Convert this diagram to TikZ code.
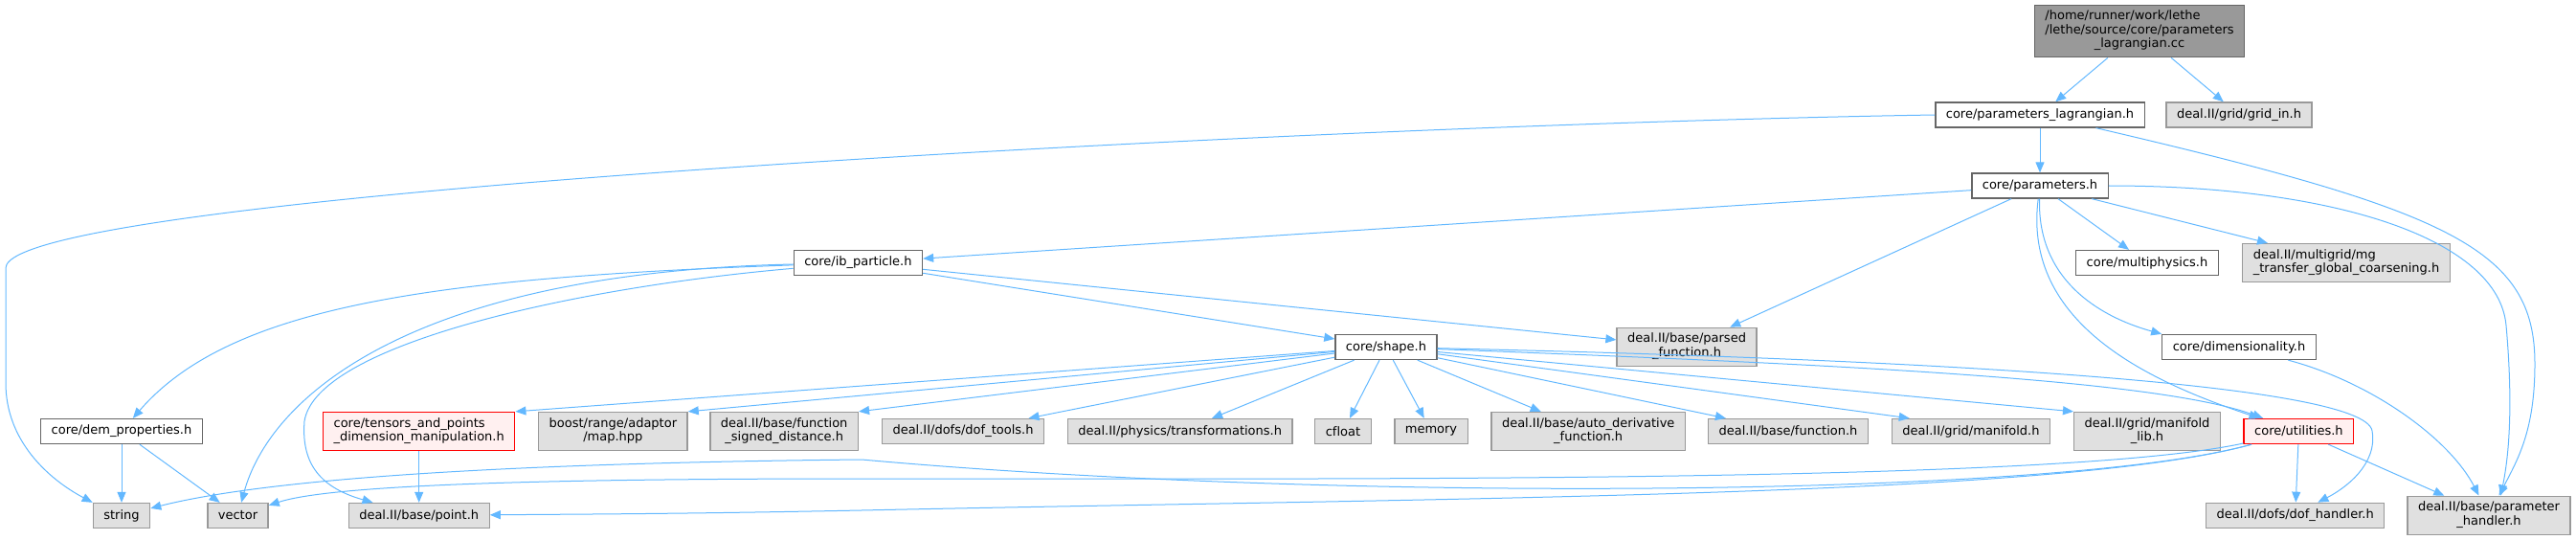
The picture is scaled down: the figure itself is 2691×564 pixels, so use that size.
\documentclass[tikz,border=0pt]{standalone}
\usepackage{fontspec}
\setmainfont[Ligatures=NoCommon]{DejaVu Sans}
\usetikzlibrary{arrows.meta}

\definecolor{edgeblue}{HTML}{63B8FF}
\definecolor{extfill}{HTML}{E0E0E0}
\definecolor{extline}{HTML}{999999}
\definecolor{docline}{HTML}{666666}
\definecolor{rootfill}{HTML}{999999}
\definecolor{truncfill}{HTML}{FFF0F0}

% first lines left, last line centred
\newcommand{\twolines}[2]{\begin{tabular}{@{}l@{}}#1\\\multicolumn{1}{@{}c@{}}{#2}\end{tabular}}

\tikzset{
  file/.style={draw, line width=1.3pt, inner xsep=11pt, inner ysep=5.5pt,
    minimum height=26pt, font=\fontsize{13}{14.5}\selectfont},
  docfile/.style={file, draw=docline, fill=white},
  extfile/.style={file, draw=extline, fill=extfill},
  truncfile/.style={file, draw=red, fill=truncfill},
  rootfile/.style={file, draw=docline, fill=rootfill},
  inc/.style={draw=edgeblue, line width=1pt, -{Triangle[length=11pt,width=9pt]}}
}

\begin{document}
\begin{tikzpicture}[x=1pt,y=-1pt]
  \useasboundingbox (0,0) rectangle (2691,564);

  \node[rootfile] (root) at (2235,32.5) {\twolines{/home/runner/work/lethe\\/lethe/source/core/parameters}{\_lagrangian.cc}};
  \node[docfile] (pl) at (2131,120) {core/parameters\_lagrangian.h};
  \node[extfile] (gridin) at (2339,120) {deal.II/grid/grid\_in.h};
  \node[docfile] (params) at (2131,194) {core/parameters.h};
  \node[docfile] (multiphysics) at (2243,274.5) {core/multiphysics.h};
  \node[extfile] (mgtransfer) at (2451,274.5) {\twolines{deal.II/multigrid/mg}{\_transfer\_global\_coarsening.h}};
  \node[docfile] (ib) at (896.4,274.5) {core/ib\_particle.h};
  \node[docfile] (shape) at (1448,362.5) {core/shape.h};
  \node[extfile] (parsed) at (1762,362.3) {\twolines{deal.II/base/parsed}{\_function.h}};
  \node[docfile] (dimensionality) at (2339,362.5) {core/dimensionality.h};
  \node[docfile] (dem) at (127,450.5) {core/dem\_properties.h};
  \node[truncfile] (tensors) at (437.7,450.5) {\twolines{core/tensors\_and\_points}{\_dimension\_manipulation.h}};
  \node[extfile] (boost) at (640.4,450.5) {\twolines{boost/range/adaptor}{/map.hpp}};
  \node[extfile] (fsd) at (819.2,450.5) {\twolines{deal.II/base/function}{\_signed\_distance.h}};
  \node[extfile] (doftools) at (1006,450.5) {deal.II/dofs/dof\_tools.h};
  \node[extfile] (transformations) at (1232.7,450.5) {deal.II/physics/transformations.h};
  \node[extfile] (cfloat) at (1403,450.5) {cfloat};
  \node[extfile] (memory) at (1495,450.5) {memory};
  \node[extfile] (autoderiv) at (1659.2,450.5) {\twolines{deal.II/base/auto\_derivative}{\_function.h}};
  \node[extfile] (function) at (1868,450.5) {deal.II/base/function.h};
  \node[extfile] (manifold) at (2059,450.5) {deal.II/grid/manifold.h};
  \node[extfile] (manifoldlib) at (2243,450.5) {\twolines{deal.II/grid/manifold}{\_lib.h}};
  \node[truncfile] (utilities) at (2401.4,450.5) {core/utilities.h};
  \node[extfile] (string) at (127,538.5) {string};
  \node[extfile] (vector) at (248.5,538.5) {vector};
  \node[extfile] (point) at (437.7,538.5) {deal.II/base/point.h};
  \node[extfile] (dofhandler) at (2397.7,538.3) {deal.II/dofs/dof\_handler.h};
  \node[extfile] (paramhandler) at (2600,538.3) {\twolines{deal.II/base/parameter}{\_handler.h}};

  % source file and parameters
  \draw[inc] (root) -- (pl);
  \draw[inc] (root) -- (gridin);
  \draw[inc] (pl) -- (params);
  \draw[inc] (pl.west) .. controls (1400,130) and (6,200) .. (6,280) -- (6,400)
    .. controls (6,460) and (50,500) .. (string.north west);
  \draw[inc] (pl) .. controls (2560,220) and (2648,260) .. (2648,380)
    .. controls (2648,450) and (2630,480) .. (paramhandler.63);
  \draw[inc] (params) -- (ib);
  \draw[inc] (params) -- (parsed);
  \draw[inc] (params) -- (multiphysics);
  \draw[inc] (params) -- (mgtransfer);
  \draw[inc] (params) .. controls (2128,290) and (2190,330) .. (dimensionality.north west);
  \draw[inc] (params) .. controls (2112,340) and (2250,400) .. (utilities);
  \draw[inc] (params.east) .. controls (2440,194) and (2610,250) .. (2618,340)
    .. controls (2626,430) and (2620,480) .. (paramhandler.59);
  \draw[inc] (dimensionality) .. controls (2480,400) and (2560,460) .. (paramhandler.117);

  % ib particle
  \draw[inc] (ib) .. controls (450,290) and (240,320) .. (dem);
  \draw[inc] (ib) .. controls (420,285) and (280,420) .. (vector);
  \draw[inc] (ib) .. controls (600,300) and (330,360) .. (318,440)
    .. controls (315,480) and (330,508) .. (point);
  \draw[inc] (ib) -- (shape);
  \draw[inc] (ib) -- (parsed);
  \draw[inc] (dem) -- (string);
  \draw[inc] (dem) -- (vector);
  \draw[inc] (tensors) -- (point);

  % shape
  \draw[inc] (shape) -- (tensors.north east);
  \draw[inc] (shape) -- (boost.north east);
  \draw[inc] (shape) -- (fsd.north east);
  \foreach \target in {doftools,transformations,cfloat,memory,autoderiv,function}
    \draw[inc] (shape) -- (\target);
  \draw[inc] (shape) -- (manifold.168);
  \draw[inc] (shape) -- (manifoldlib.north west);
  \draw[inc] (shape) .. controls (1900,380) and (2250,395) .. (utilities);
  \draw[inc] (shape) .. controls (2000,375) and (2470,400) .. (2478,450)
    .. controls (2484,485) and (2450,510) .. (dofhandler.30);

  % utilities
  \draw[inc] (utilities) -- (dofhandler);
  \draw[inc] (utilities) -- (paramhandler);
  \draw[inc] (utilities) .. controls (2150,520) and (1400,525) .. (900,480)
    .. controls (600,483) and (300,495) .. (string);
  \draw[inc] (utilities) .. controls (2150,505) and (1400,500) .. (900,500)
    .. controls (600,500) and (350,505) .. (vector);
  \draw[inc] (utilities) .. controls (2150,520) and (1500,520) .. (900,533)
    .. controls (700,537) and (600,537) .. (point);
\end{tikzpicture}
\end{document}
